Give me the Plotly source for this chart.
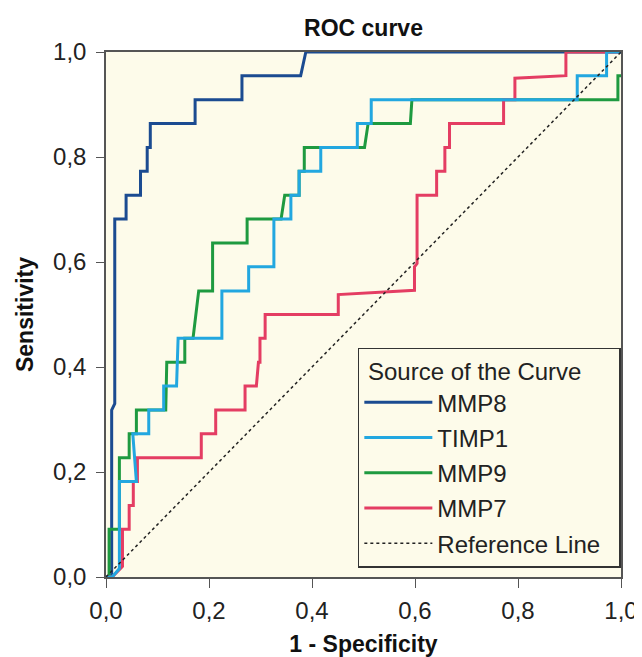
import plotly.graph_objects as go

# ---- data (1 - specificity, sensitivity) ----
series_names = ["MMP8", "TIMP1", "MMP9", "MMP7"]

mmp8_x = [0, 0.011, 0.011, 0.017, 0.017, 0.039, 0.039, 0.067, 0.067, 0.080, 0.080, 0.086, 0.086,
          0.173, 0.173, 0.264, 0.264, 0.378, 0.388, 1.0]
mmp8_y = [0, 0, 0.318, 0.330, 0.682, 0.682, 0.727, 0.727, 0.773, 0.773, 0.818, 0.818, 0.864,
          0.864, 0.909, 0.909, 0.955, 0.955, 1.0, 1.0]

timp1_x = [0, 0.012, 0.026, 0.026, 0.059, 0.052, 0.083, 0.083, 0.112, 0.112, 0.137, 0.140, 0.225,
           0.225, 0.277, 0.277, 0.326, 0.326, 0.359, 0.359, 0.375, 0.375, 0.417, 0.417, 0.488,
           0.488, 0.515, 0.515, 0.915, 0.915, 0.972, 0.972, 1.0]
timp1_y = [0, 0, 0.016, 0.182, 0.182, 0.273, 0.273, 0.318, 0.318, 0.364, 0.364, 0.455, 0.455,
           0.545, 0.545, 0.591, 0.591, 0.682, 0.682, 0.727, 0.727, 0.773, 0.773, 0.818, 0.818,
           0.864, 0.864, 0.909, 0.909, 0.955, 0.955, 1.0, 1.0]

mmp9_x = [0, 0.006, 0.006, 0.026, 0.026, 0.045, 0.045, 0.059, 0.059, 0.116, 0.118, 0.153, 0.153,
          0.169, 0.180, 0.207, 0.207, 0.274, 0.274, 0.340, 0.347, 0.375, 0.375, 0.385, 0.385,
          0.502, 0.509, 0.591, 0.594, 0.994, 0.994, 1.0]
mmp9_y = [0, 0, 0.091, 0.091, 0.227, 0.227, 0.273, 0.273, 0.318, 0.318, 0.409, 0.409, 0.455,
          0.455, 0.545, 0.545, 0.636, 0.636, 0.682, 0.682, 0.727, 0.727, 0.773, 0.773, 0.818,
          0.818, 0.864, 0.864, 0.909, 0.909, 0.955, 0.955]

mmp7_x = [0, 0.012, 0.032, 0.032, 0.045, 0.045, 0.053, 0.053, 0.061, 0.061, 0.185, 0.185, 0.213,
          0.213, 0.270, 0.270, 0.292, 0.296, 0.299, 0.299, 0.309, 0.309, 0.451, 0.451, 0.599,
          0.599, 0.604, 0.604, 0.642, 0.642, 0.658, 0.658, 0.667, 0.667, 0.772, 0.772, 0.794,
          0.794, 0.893, 0.893, 1.0]
mmp7_y = [0, 0, 0.020, 0.091, 0.091, 0.136, 0.136, 0.182, 0.182, 0.227, 0.227, 0.273, 0.273,
          0.318, 0.318, 0.364, 0.364, 0.409, 0.409, 0.455, 0.455, 0.500, 0.500, 0.538, 0.546,
          0.591, 0.597, 0.727, 0.727, 0.773, 0.773, 0.818, 0.818, 0.864, 0.864, 0.909, 0.909,
          0.950, 0.955, 1.0, 1.0]

ref_x = [0, 1]
ref_y = [0, 1]

tick_vals = [0.0, 0.2, 0.4, 0.6, 0.8, 1.0]

colors = {"MMP8": "#1B4B91", "TIMP1": "#22A7E0", "MMP9": "#1E9A40", "MMP7": "#E43D63"}
legend_rank = {"MMP8": 1, "TIMP1": 2, "MMP9": 3, "MMP7": 4}
data = {"MMP8": (mmp8_x, mmp8_y), "TIMP1": (timp1_x, timp1_y),
        "MMP9": (mmp9_x, mmp9_y), "MMP7": (mmp7_x, mmp7_y)}

FONT = "Liberation Sans, Arial, sans-serif"
BG = "#FDFBEA"
AXC = "#555555"

fig = go.Figure()
# drawing order (bottom -> top) as seen in the reference
for name in ["MMP8", "MMP9", "MMP7", "TIMP1"]:
    xs, ys = data[name]
    fig.add_trace(go.Scatter(
        x=xs, y=ys, mode="lines", name=name,
        line=dict(color=colors[name], width=3),
        legendgroup=name, legendrank=legend_rank[name],
        hoverinfo="skip"))

fig.add_trace(go.Scatter(
    x=ref_x, y=ref_y, mode="lines", name="Reference Line&nbsp;&nbsp;",
    line=dict(color="#222222", width=1.5, dash="dot"),
    legendgroup="ref", legendrank=5, hoverinfo="skip"))

fig.update_layout(
    width=642, height=657,
    margin=dict(l=98, r=19, t=44, b=84),
    paper_bgcolor="white", plot_bgcolor=BG,
    separators=",.",
    font=dict(family=FONT, size=24, color="#222222"),
    title=dict(text="<b>ROC curve</b>", x=0.5, xref="paper", xanchor="center",
               y=1 - 20 / 657, yref="container", yanchor="middle",
               font=dict(family=FONT, size=23, color="#111111")),
    showlegend=True,
    legend=dict(
        title=dict(text="&nbsp;Source of the Curve",
                   font=dict(family=FONT, size=24, color="#222222")),
        x=0.489, y=0.018, xanchor="left", yanchor="bottom",
        bgcolor=BG, bordercolor="#333333", borderwidth=1.5,
        font=dict(family=FONT, size=24, color="#222222"),
        itemwidth=68, traceorder="grouped", tracegroupgap=1,
    ),
)

fig.update_xaxes(
    range=[0, 1], tickvals=tick_vals, tickformat=".1f",
    showgrid=False, zeroline=False,
    showline=True, linecolor=AXC, linewidth=1.5, mirror=True,
    ticks="outside", ticklen=9, tickwidth=1.2, tickcolor=AXC,
    ticklabelstandoff=2,
    tickfont=dict(family=FONT, size=24, color="#222222"),
    title=dict(text="<b>1 - Specificity</b>", standoff=13,
               font=dict(family=FONT, size=23, color="#111111")),
)
fig.update_yaxes(
    range=[0, 1], tickvals=tick_vals, tickformat=".1f",
    showgrid=False, zeroline=False,
    showline=True, linecolor=AXC, linewidth=1.5, mirror=True,
    ticks="outside", ticklen=8, tickwidth=1.2, tickcolor=AXC,
    ticklabelstandoff=5,
    tickfont=dict(family=FONT, size=24, color="#222222"),
    title=dict(text="<b>Sensitivity</b>", standoff=13,
               font=dict(family=FONT, size=23, color="#111111")),
)

fig.write_html("out.html")
